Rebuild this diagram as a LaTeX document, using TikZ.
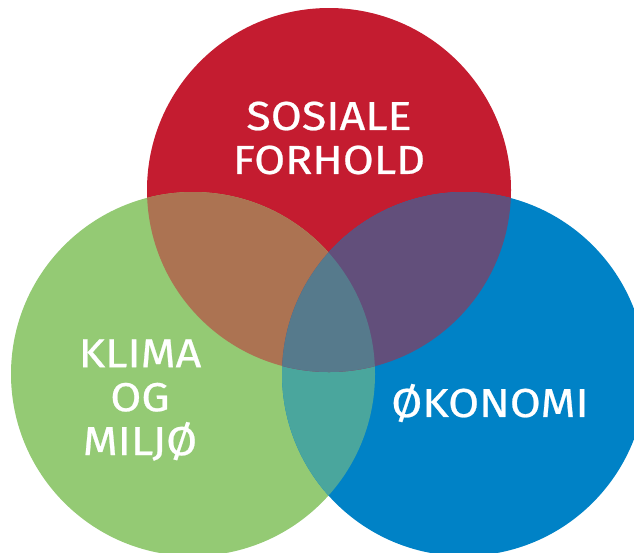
\documentclass[tikz,border=0pt]{standalone}
\usepackage{fontspec}
\setmainfont{Fira Sans}
\usepackage{tikz}
\usetikzlibrary{positioning}

\definecolor{sosialrod}{RGB}{196,28,48}
\definecolor{klimagronn}{RGB}{148,202,116}
\definecolor{okoblaa}{RGB}{0,130,198}
\colorlet{rodgronn}{sosialrod!50!klimagronn}
\colorlet{rodblaa}{okoblaa!50!sosialrod}
\colorlet{gronnblaa}{okoblaa!50!klimagronn}
\colorlet{midt}{okoblaa!50!rodgronn}

\tikzset{
  label text/.style={text=white, align=center, font=\fontsize{23}{25}\selectfont\addfontfeatures{FakeBold=0.6,FakeStretch=1.11}}
}

\begin{document}
\begin{tikzpicture}[x=0.02cm,y=-0.02cm]
\useasboundingbox (0,0) rectangle (634,552);
\clip (0,0) rectangle (634,552);

\coordinate (sos) at (329,190);
\coordinate (kli) at (193,374);
\coordinate (oko) at (464,374);

% circles
\fill[sosialrod] (sos) circle[radius=182];
\fill[klimagronn] (kli) circle[radius=182];
\fill[okoblaa] (oko) circle[radius=182];

% overlaps
\begin{scope}
  \clip (oko) circle[radius=182];
  \fill[gronnblaa] (kli) circle[radius=182];
\end{scope}
\begin{scope}
  \clip (sos) circle[radius=182];
  \fill[rodgronn] (kli) circle[radius=182];
  \fill[rodblaa] (oko) circle[radius=182];
  \clip (kli) circle[radius=182];
  \fill[midt] (oko) circle[radius=182];
\end{scope}

% labels
\node[label text] (sosiale) at (329,138) {SOSIALE\\FORHOLD};
\node[label text] (klima) at (140,400) {KLIMA\\OG\\MILJØ};
\node[label text] (okonomi) at (490,403) {ØKONOMI};
\end{tikzpicture}
\end{document}
